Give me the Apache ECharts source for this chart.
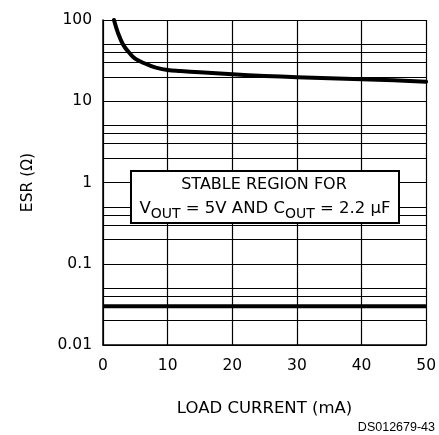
<!DOCTYPE html>
<html>
<head>
<meta charset="utf-8">
<script src="https://cdn.jsdelivr.net/npm/echarts@6/dist/echarts.min.js"></script>
<style>html,body{margin:0;padding:0;background:#fff;}#c{width:439px;height:435px;}</style>
</head>
<body>
<div id="c"></div>
<script>
// Data
var xTicks = [0, 10, 20, 30, 40, 50];
var yTicks = [0.01, 0.1, 1, 10, 100];
var decades = [0.01, 0.1, 1, 10];
var minorMultipliers = [2, 3, 4, 5];
var esrCurveX = [1.7, 2.3, 3.1, 4.0, 4.75, 5.4, 6.2, 7.1, 8.2, 10, 12, 15, 20, 25, 30, 35, 40, 45, 50];
var esrCurveY = [100, 70, 50, 40, 34.5, 32, 29.8, 27.8, 25.9, 24.2, 23.5, 22.7, 21.5, 20.5, 19.8, 19.2, 18.7, 18.1, 17.4];
var lowerLimitX = [0, 50];
var lowerLimitY = [0.03, 0.03];

var FONT = 'DejaVu Sans';
var minorLines = [];
decades.forEach(function (d) {
  minorMultipliers.forEach(function (m) {
    minorLines.push({ yAxis: +(d * m).toPrecision(3) });
  });
});

var chart = echarts.init(document.getElementById('c'), null, { renderer: 'canvas' });
chart.setOption({
  animation: false,
  backgroundColor: '#fff',
  grid: { left: 103, right: 11, top: 20, bottom: 90, containLabel: false },
  xAxis: {
    type: 'value', min: 0, max: 50, interval: 10,
    name: 'LOAD CURRENT (mA)', nameLocation: 'middle', nameGap: 55,
    nameTextStyle: { fontFamily: FONT, fontSize: 16.5, color: '#000' },
    axisLine: { show: true, lineStyle: { color: '#000', width: 1.5 } },
    axisTick: { show: false },
    axisLabel: { fontFamily: FONT, fontSize: 15.5, color: '#000', margin: 13 },
    splitLine: { show: true, lineStyle: { color: '#000', width: 1.2 } }
  },
  yAxis: {
    type: 'log', logBase: 10, min: 0.01, max: 100,
    name: 'ESR (\u03A9)', nameLocation: 'middle', nameGap: 67, nameRotate: 90,
    nameTextStyle: { fontFamily: FONT, fontSize: 15.5, color: '#000' },
    axisLine: { show: true, lineStyle: { color: '#000', width: 1.5 } },
    axisTick: { show: false },
    axisLabel: {
      fontFamily: FONT, fontSize: 15.5, color: '#000', margin: 11,
      formatter: function (v) { return String(+v.toPrecision(3)); }
    },
    splitLine: { show: true, lineStyle: { color: '#000', width: 1.2 } }
  },
  series: [
    {
      type: 'line', data: [], silent: true,
      markLine: {
        silent: true, symbol: 'none', animation: false,
        label: { show: false },
        lineStyle: { color: '#000', width: 1, type: 'solid' },
        data: minorLines
      }
    },
    {
      type: 'line', showSymbol: false, silent: true,
      data: lowerLimitX.map(function (x, i) { return [x, lowerLimitY[i]]; }),
      lineStyle: { color: '#000', width: 4 }
    },
    {
      type: 'line', showSymbol: false, silent: true, smooth: 0.4,
      data: esrCurveX.map(function (x, i) { return [x, esrCurveY[i]]; }),
      lineStyle: { color: '#000', width: 4, join: 'round', cap: 'round' }
    }
  ],
  graphic: [
    {
      type: 'rect', left: 130, top: 170,
      shape: { width: 268, height: 52 },
      style: { fill: '#fff', stroke: '#000', lineWidth: 2 }, z: 100
    },
    {
      type: 'text', z: 101,
      x: 264, y: 185,
      style: {
        text: 'STABLE REGION FOR', fontFamily: FONT, fontSize: 16, fill: '#000',
        align: 'center', verticalAlign: 'middle'
      }
    },
    {
      type: 'text', z: 101,
      x: 265, y: 209,
      style: {
        text: '{n|V}{s|OUT}{n| = 5V AND C}{s|OUT}{n| = 2.2 \u03BCF}',
        fontFamily: FONT, fontSize: 16, fill: '#000',
        align: 'center', verticalAlign: 'middle',
        rich: {
          n: { fontFamily: FONT, fontSize: 16.5, fill: '#000', lineHeight: 20 },
          s: { fontFamily: FONT, fontSize: 14, fill: '#000', padding: [10, 0, 0, 0], lineHeight: 20 }
        }
      }
    },
    {
      type: 'text', z: 101,
      right: 4, top: 421,
      style: { text: 'DS012679-43', fontFamily: 'Liberation Sans', fontSize: 12.5, fill: '#000' }
    }
  ]
});
</script>
</body>
</html>
